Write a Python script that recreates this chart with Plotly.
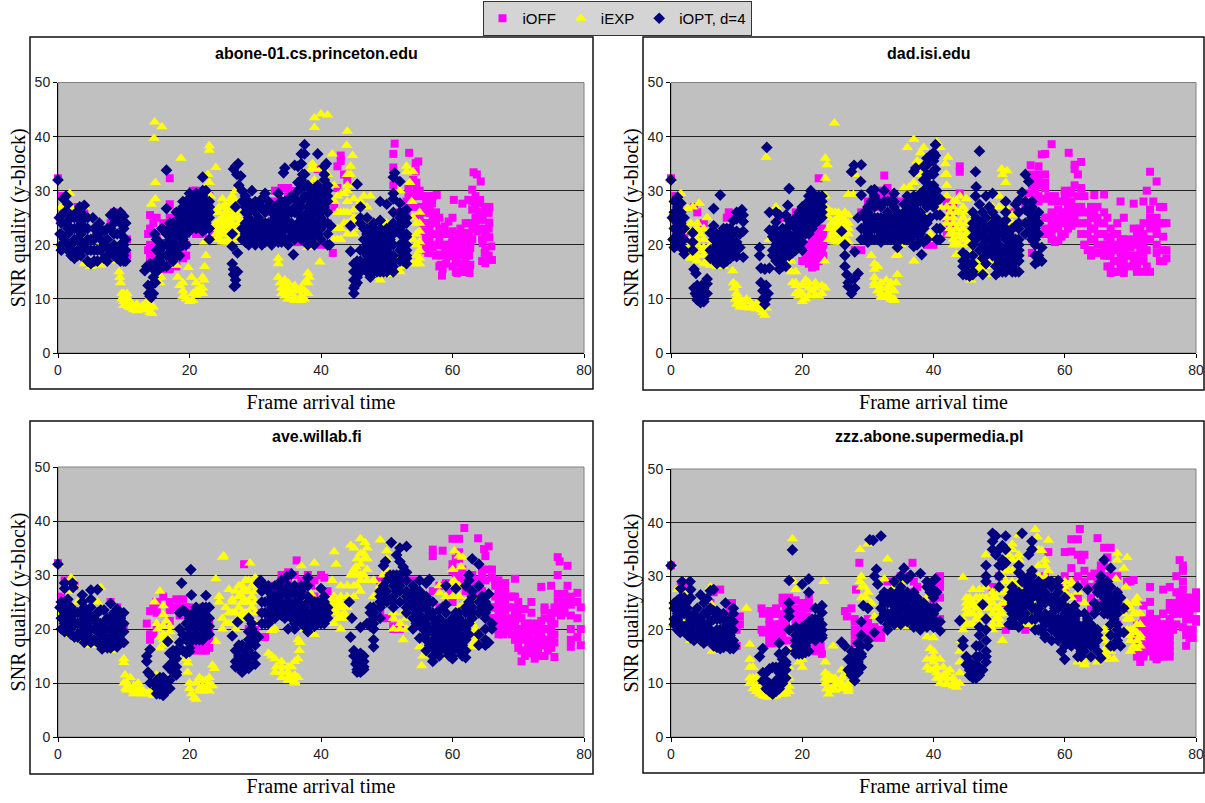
import plotly.graph_objects as go

W, H = 1205, 803
P1_TITLE = "abone-01.cs.princeton.edu"
P2_TITLE = "dad.isi.edu"
P3_TITLE = "ave.willab.fi"
P4_TITLE = "zzz.abone.supermedia.pl"
SERIES = ["iOFF", "iEXP", "iOPT, d=4"]

P1_OFF = [(0,32.3),(0.5,29),(0.3,25),(1,27),(3,27),(4,26),(8.5,26),(9.5,25),(10.5,21),(10.5,18),(8,24),(14,25.5),(13.7,22),(13.7,19),(14,17.7),(14.5,24),(15,22),(15,20),(16,24),(16,16),(17,32.3),(17,27.5),(17,17),(18,24.5),(18.5,25),(19,21),(19.5,18),(19.5,22),(20,24),(20.5,30),(21,22.5),(22,29.5),(23,29),(23,27),(23.5,22),(32,28),(32,26),(33,30),(34,30.5),(35,30.5),(35.5,30),(36,22),(36,20.5),(37,24),(37,20.5),(37.5,26),(39,31),(39.5,34),(40,20),(41,24),(41,20),(41.8,18.5),(42,27),(42.5,34.5),(42.5,30.5),(43,36.5),(43,35.5),(43.5,33),(44,32),(51.2,38.7),(51,36.8),(53.4,37),(54.8,35.4),(54.4,35.1),(54.4,33.6),(51,34.3),(51,31),(53.3,30.5),(54.5,31.5),(54.5,30.2),(53.3,29),(54.7,29),(56.3,29),(57.6,29.2),(55.8,27),(56.9,27.7),(56.6,25.9),(58,25),(56.9,24),(56,21),(56.3,18.5),(57.4,22),(58.2,22),(58.8,23.4),(59.4,24.3),(60,25),(60.2,28.3),(61.5,27.6),(62.4,28.3),(63,30.2),(63.2,33.4),(63.7,33),(64.3,31.7),(64.2,28.3),(63,26.5),(64.2,27.7),(65.6,27),(65.5,25.9),(65.6,24.1),(64.6,24.6),(63.5,24),(63.8,22.5),(62.4,24),(61.2,23),(61.8,22.2),(62.7,20.6),(65.6,21.4),(64.6,20.3),(65.9,19.7),(64.9,18.5),(66,17.2),(65,16.6),(62.7,19.4),(61.6,18.5),(62.7,16.3),(62.6,14.8),(60.7,14.8),(61.6,16),(60.5,17.2),(59.4,17.9),(58.2,16.3),(58.4,14.3),(58,18.2),(58.8,19.7),(59.9,20.3),(61,20.9),(61.3,19.4),(60,19),(57,20),(55.5,24),(53,27),(52,26)]
P1_OFF_COLS = [(53,[26,28]),(54,[27,29,32]),(55,[27,30,25]),(55.5,[29,26,22.5]),(56,[28,26,24,22,20,19]),(56.5,[27,23,21]),(57,[25,29,22,19.5]),(57.5,[26,24,20,18]),(58,[21,23,20,16]),(58.5,[20,18,15.5]),(59,[22,20,18.5,16.5]),(59.5,[20,22,19]),(60,[21,22.5,18,16]),(60.5,[20,18.5,15]),(61,[22,18,16.5]),(61.5,[20,21,15]),(62,[24,21.5,19,17,15]),(62.5,[22,18,15]),(63,[21,23,28]),(63.5,[25,27,29]),(64,[23,25,26]),(64.5,[26,21,17]),(65,[23,22,27,19]),(65.5,[18,23]),(14,[20,23,18.5]),(15,[18,25]),(16,[18,15.5]),(17,[15.5,25]),(18,[16,18,26]),(19,[17.5,19.5]),(19.5,[20]),(22,[22,23]),(21,[30,22]),(35,[26,29]),(33,[28,26.5]),(32,[24])]
P1_EXP = [(0,32),(0.5,27),(1,28.5),(1.8,29.5),(2,27),(0.3,20),(1,19),(2,18),(3,17.5),(4,16.5),(5,16),(6.5,16.2),(3,24),(4,27),(5,25),(5.5,22),(6.5,20),(8,18),(9,17),(9.3,15),(9.4,14),(9.5,13),(9.7,11),(9.7,10),(10,9.5),(10.5,11),(10.3,9),(11,8.5),(11.5,8),(12,8.3),(12.5,8),(13,8.5),(13.2,9),(13.5,8),(14,7.5),(14.3,7.3),(14.5,8.5),(14.7,42.7),(15.8,41.8),(14.6,39.7),(14.8,31.5),(14.8,28.5),(14.2,27.5),(15.5,18),(15.5,16),(15.5,13),(15.7,14),(18.7,36),(18,16.2),(18.2,14),(18.5,12.5),(19,11.5),(19.3,10.5),(19.5,10),(20,9.5),(19.8,15.8),(20.3,14),(20.5,11),(21,11.5),(21.5,12),(22,11),(22.2,13.5),(22.3,16),(22.5,18),(22.3,20.5),(21.7,11),(23,38.3),(23,37.5),(22.8,33),(23,31.5),(24,34.3),(23.2,29),(24,22),(24,24),(24.5,26),(25,28.5),(25,25),(25,22),(25,20.5),(25.5,23),(26,27),(26,24),(26,21),(26.5,25),(26.5,28),(27,30),(27,26),(27,23),(27.5,25),(27.5,22),(27.7,21),(28,21),(24.5,23),(25.5,26),(26.5,22),(33.5,17.5),(33.5,16.5),(33.5,14),(33.8,13),(34,12),(34,11),(34.5,10.5),(34.5,13.5),(35,12),(35,10),(35.5,11),(36,10),(36.5,9.7),(37,10.5),(37,9.7),(37.5,10),(38,11),(38,13),(38,14.8),(38.2,14),(36,11.5),(35.7,10),(33.5,21),(37.5,27),(38,19.5),(39,43.5),(39,41.7),(40,44.2),(41,44),(39.8,16.8),(38.7,35),(39,34),(39,32),(40,31),(41,33),(41.7,36.8),(42,31),(42,28),(39,21),(41,22),(43.5,29.5),(44,31),(44,28),(44,26),(44,41),(43.9,38.4),(44.8,36.5),(44.5,34.5),(44.5,33),(45,31),(45,28.5),(43,29.5),(42.5,26),(42.5,23),(42,21),(43,23),(44,24),(45,22),(46,25),(46.5,29),(47,27),(47.5,29),(48,23),(48,18),(48,14),(49,13.5),(50,24),(50.5,14.5),(51,18),(51,22),(52,15),(52,18),(52,30),(53,34.5),(53,33.5),(54,33.5),(53.5,31.5),(53.8,28),(54,25),(54,21),(54,16.5),(55,26),(55,22.5),(55,19),(55,16.5),(54.5,24),(52.5,25)]
P1_EXP_COLS = [(24.5,[21,22,24.5,27]),(25,[23,24,27]),(25.5,[20.5,22,24,25,27.5]),(26,[20.5,22,23,25,26,28]),(26.5,[21,23,24,26.5,29]),(27,[21,22,25,28]),(27.5,[23,24,26]),(24,[21,23,26]),(10,[10.5,11,8.8]),(10.7,[9,8.5,10]),(11.3,[9,8.3]),(12,[9,7.8]),(12.8,[8.7]),(13.5,[9.5]),(14,[8.5]),(20.5,[9.7]),(19,[13,10.5]),(21,[10.7,13]),(22,[12,14]),(34.5,[12,11]),(35,[11,13]),(36,[9.7,12.5]),(37,[11.5,12]),(37.5,[11.5,13]),(44,[22,30,33]),(43.5,[24,26]),(42.5,[29,21]),(43,[26,21]),(45,[25,26.5,24]),(46,[28,23]),(47,[24]),(50,[14.5]),(51,[15,16]),(52,[16,20]),(54.5,[18,20,22,16.5]),(55,[20.5,24,17.5]),(38.5,[34,31]),(40,[28,34])]
P1_OPT = [(0,32),(0.8,28.5),(1.2,29),(1.5,27.5),(0.2,25),(0.6,25.5),(1,26),(1.2,24),(0.3,22),(0.5,20),(1,21),(1.5,22),(1.5,19),(2,20),(2.5,18.5),(2.5,21),(3,23),(3,25),(2.8,26),(3.3,27),(4,27.3),(4,25),(4,23),(4,20),(3.5,19),(3.5,18),(4.5,17),(5,16.5),(5,19),(5,21),(5.3,25),(6,17),(6,19),(6,22),(6.3,24),(7,17.5),(7,20),(7,22.5),(7.5,21),(8,18.5),(8,23),(8,25.5),(8.5,26),(8.5,20),(9,25),(9,22),(9,19),(9.5,24),(9.5,18),(10,25.3),(10,23),(10,20),(10,18),(10,17),(9,17.5),(13.2,15.2),(13.5,16),(13.7,12.5),(13.8,11),(14,10.5),(14.2,10.3),(14.5,11),(14.2,12.5),(14,16.5),(14.5,14),(14.7,22),(14.5,15.5),(14.8,13),(15,17),(15.5,17),(15.5,19),(15.5,16),(16,16),(16,20),(16.5,18),(16,22.8),(16.5,26.7),(16.5,33.8),(17,18),(17,21),(17,23),(17.5,19),(17.5,21.5),(18,18),(18,20),(18,22),(18,23.5),(18.5,19.5),(18.5,21.5),(18,26),(19,25),(19,27),(19,22.5),(19.5,24),(19.5,28),(20,25),(20,27),(20,29.5),(20.5,26),(20.5,28),(21,24),(21,26),(21,28),(21.5,25),(21.5,27.5),(22,30),(22,26),(22,28),(22,32.5),(22.5,23),(22.5,25),(22.5,27),(23,26),(23,28),(23,21),(22,22.5),(20,22.5),(26.5,22),(26.5,19.7),(26.5,16.5),(26.7,15.5),(26.7,14.5),(27,13.5),(26.8,12.3),(27,12.5),(27.3,15),(27.3,18.5),(26.7,34),(27,34.5),(27.4,35),(27.2,33),(27.8,32.7),(27.5,31),(27,27),(28,28),(28,30),(28.5,29),(29,28),(29.5,30),(29,25),(28,23),(28,21),(29,22),(29,20),(30,21),(30,24),(30.5,27),(31,28.5),(31.5,29.5),(31,22),(31,20),(32,21),(32,24),(32.5,20),(33,22),(33,25),(33.5,27.5),(33.5,29.5),(34,24),(34,22),(34.5,34.2),(34.3,33.3),(34.5,28),(34.5,25),(35,23),(35,20),(35,21),(35.5,24),(36,22),(35.8,18.2),(36,26),(36,28.5),(36.5,34.5),(36,34.7),(36.5,31.5),(37,30.5),(37,28),(37,36.8),(37,35),(37.2,33),(37.5,36.8),(37.5,38.5),(38,31),(38,29),(37.5,25),(38,23),(38,21),(39,24),(39,22),(39,27),(39.5,29),(39.5,36.8),(40,30),(40,27),(40,25),(40,23),(40.5,34.5),(40.8,35),(40.5,33),(41,31),(41,28),(41,26),(41,20),(41.5,23.5),(41,22),(41.3,20),(44.5,23.5),(44.5,18.8),(45,16.5),(45,15),(45,13.5),(45,12),(45,11),(45.2,12.5),(45.5,14),(46,17),(45.5,31.2),(46,27),(47,25),(47,20),(47,18),(47,15),(47.5,14),(48,24),(48,22),(48,20),(48,18),(49,28),(49,24.5),(49,22),(49,19),(49,16),(49,15),(50,27.5),(50,20),(50,18),(50,23),(50.5,21),(51,28.5),(51,26),(51,24),(51,20),(51,16),(51,15),(51,29.5),(51.2,33.3),(51,32.5),(51.5,22.5),(52,27.7),(52,31.7),(52,24),(52,22),(52.5,17),(53,26.5),(53,24),(53,21.5),(53,19),(53,17.5),(52.5,20.5)]
P1_OPT_COLS = [(0.5,[24,22,19]),(1.5,[26,20,23]),(2,[23,25,18]),(2.5,[23,25,17.5]),(3,[19,21,18]),(3.5,[22,24,26,20.5]),(4.5,[19,21,23,25]),(5.5,[17,19,21,23]),(6.5,[19,21,23]),(7.5,[18,19.5,23,17]),(8.5,[18,22,24]),(9.5,[20,22,26,17]),(10.3,[19,21,24,17]),(15,[15,19,21]),(15.8,[18,20,23]),(16.5,[16,20,22]),(17,[19.5,22,24]),(17.5,[17,20,23,24]),(18.5,[18,23,25,26]),(19,[20,21,24,28]),(19.5,[20,22,26,27]),(20,[23.5,26,28.5]),(20.5,[24,25,27,29]),(21,[23,25,27,29.5]),(21.5,[24,26,29]),(22,[24,27,29]),(22.5,[24,26,28,30]),(23,[23,25,27]),(28.5,[20.5,22,24,26,27]),(29,[24,23.5,26]),(29.5,[21,22,24,27]),(30,[20,22,23,26,28]),(30.5,[21,23,25]),(31,[23,24,27]),(31.5,[20.5,22,24,26]),(32,[22.5,27,28]),(32.5,[22,24,26]),(33,[21,23,24,27]),(33.5,[20.5,22,24.5,26]),(34,[20.5,23,26,28]),(34.5,[21,23,27]),(35,[24,26,28]),(35.5,[21.5,23,26,29]),(36,[21,23,27]),(36.5,[22,24,26,28,30]),(37,[21,23,25,27,32]),(37.5,[22,24,29,31,33]),(38,[20,22,24,26,27]),(38.5,[21,23,25,28,30]),(39,[20,23,26,28,30]),(39.5,[22,24,26,31]),(40,[21,26,28,29]),(40.5,[24,27,30,32]),(41,[24,29,30]),(45.5,[15.5,13,17]),(46,[15,19,25,24]),(46.5,[16,19,21,23]),(47,[16,17,19,22,23]),(47.5,[16,18,20,21,23]),(48,[15,16,17,19,21,23]),(48.5,[15,17,18,20,22]),(49,[17,18,20,21,23]),(49.5,[15,17,19,21]),(50,[15,16,17,19,21,22]),(50.5,[16,18,20,23]),(51,[17,18,22]),(52,[17,19,20,23,25,26]),(52.5,[18,22,24,26]),(53,[16.5,18,20,22,25])]

P2_OFF = [(58,38.6),(56.5,36.7),(57,36.8),(60.6,37),(54.8,34.7),(56,34.5),(61.5,34.8),(62.5,35.3),(61.5,34),(62,33),(57,33),(56,32),(56,31),(57,30.5),(54.5,29.5),(55.5,28.5),(57,28.5),(58,28),(60,30),(61,29.5),(62.5,30.5),(63,29),(60,28),(61,27),(62,27),(59,26.5),(58,25.5),(59,24),(60,24),(61,25),(60.5,23),(59,23),(58,22),(59,20.8),(60,22),(63,22),(64,25),(63.5,26),(65,27),(64.5,29.2),(66,29.3),(66,26),(66.5,25),(64,23),(65,24),(65.5,22),(64,21),(63,20),(64,19),(65,20),(66,19),(67,21),(67,23),(68,22),(66.5,18),(68,19),(69,21),(67,16),(67.5,15),(69,17),(70,18),(69,14.8),(71,20),(72,20),(72,17),(73,21),(71,15),(72,15),(72.5,16),(73,15),(71.5,23),(70.5,23),(72,24),(73,25),(69,25),(68,24),(68.5,28),(70.5,27.6),(72,28),(72.5,30),(73,33.5),(74,31.7),(73.5,28),(73,26.5),(74,23),(75,24),(75,27),(75.5,24),(75,21.5),(75,19),(74,20),(74,18.5),(75.5,19),(75.5,17.5),(74.5,17),(75,17),(0,32.3),(22.5,32.3),(32.5,32.8),(44,34.5),(44,33.5),(44,29.5),(42,28),(21,20),(21,18),(21,16.5),(22,16),(22,18),(22,20),(23,19),(23,21),(23,23),(22,22),(21.5,15.8),(20,17),(20,24),(19,26),(17,25),(18,24),(8.5,25),(8.8,26),(3.5,27),(4,26),(5,24),(2,22),(1,29),(0.5,29),(0.3,25),(31,30),(33,30.5),(34,29),(35,28),(33,26),(31,27),(32,24),(30,28),(36,28),(37,27),(29,26),(40,20),(39,20),(38,21),(42,25),(42,22),(52,26),(53,28),(54,27.5),(55.8,22),(55,21),(55,18.5),(54,24),(35,22.5),(29,19),(28,19)]
P2_OFF_COLS = [(55,[31,33,27]),(55.5,[30,32,26]),(56,[28,29,33]),(57,[31.5,25,23,22]),(57.5,[25,22,29]),(58,[26,24,23,21]),(58.5,[20.5,29]),(59,[25,28]),(59.5,[22,26,21.5]),(60,[26,29,25]),(60.5,[25,27,28]),(61,[23.5,26,28,30]),(61.5,[25,27,31]),(62,[29,26,24]),(62.5,[27,22]),(63,[24,26,20]),(63.5,[22,24,19]),(64,[27,25,18]),(64.5,[23,21,26]),(65,[22,18.5,25]),(66,[22,24,20,18]),(66.5,[20,21.5,16]),(67,[18,20,19,14.8]),(67.5,[17,20,22]),(68,[20,17,15]),(68.5,[18,21,16]),(69,[19,15.5,20]),(69.5,[18,21,20]),(70,[16,20,19.5]),(70.5,[18,21,17]),(71,[18,22,16]),(71.5,[19,17,21]),(72,[22,18.5]),(72.5,[21,19]),(73,[24,23]),(74,[25,24,22]),(74.5,[24,27]),(20.5,[18,20,22]),(21.5,[17,19,21,23]),(22.5,[17,19,21,23]),(23.2,[20,22,18]),(21,[22,24]),(42.5,[24,26]),(43,[27,26]),(32,[29,30]),(31,[29]),(34,[27]),(33,[29])]
P2_EXP = [(0,32),(1,29),(1.5,29.5),(2.5,26.7),(3.3,27),(4.3,27.7),(3,24),(3.5,22.5),(3,21),(4,23),(4.5,22),(5,21),(5.5,25),(4,20),(3.5,18),(5,18),(5,16.5),(6,16.2),(7,16),(8,16),(4.5,19),(2,19),(2.5,18),(9.4,15.2),(9.5,13),(9.6,12),(10,11),(9.8,10),(10,9),(10.5,9),(11,8.5),(11.3,8.5),(11.5,10),(12,8.3),(12.5,8.5),(13,8.2),(13.3,9),(13.7,8),(14,7.5),(14.3,7),(14.5,8.3),(14.3,12.5),(14.5,36.2),(16,27),(16,17),(17,21),(15,21),(17.5,15.8),(18.3,17),(18.3,15),(18.5,13),(19,12.5),(19.5,10.5),(20,9.5),(19.5,11.5),(20.5,10),(20.5,13.5),(21,12),(21.5,11.5),(22,12),(22.5,10.5),(23,11),(23.5,12),(23.4,17),(23.5,29),(23.5,27),(24,25),(24,23),(23.5,32.3),(23.5,36),(23.8,34.8),(24.9,42.5),(25,26),(25,23),(25,21),(26,25),(26,22),(26,20.5),(26.5,26),(27,24),(27,22),(27,20.5),(25.5,24),(24.5,24),(26.5,23),(27,29.3),(27.8,29.3),(28,33),(30.5,18),(31,16.5),(31.5,16),(31,14),(31,12.5),(31.5,11.5),(32,11),(32,13),(32.5,10.3),(33,10.5),(33,12),(32.8,13.5),(33.5,10),(34,10),(34,11.5),(34.3,13),(34.5,14.5),(34.3,18),(34.5,18.2),(33.7,10),(35,20),(35.5,21),(35.5,30.5),(36.3,30.7),(36,38),(37,39.5),(37,31.5),(37.5,35.5),(38,37),(38.5,38),(38.5,33),(38,30),(37,27),(37,17),(39,28),(39.5,25),(39.5,22),(40,21),(40.5,39),(41,38),(41.8,35),(41.8,33),(42.2,36.2),(42,31),(42,29),(42,27),(41,27),(43,27),(43,24),(43,22),(43.5,28),(44,29),(44,26),(44,24),(44,22),(44,20),(44.5,23),(45,28.5),(45,24),(45,21),(43.5,20),(43.5,18.2),(46,21),(45.7,13.5),(46,19),(47,17),(47.5,15),(48,14.5),(48,16),(49,17),(48.5,22),(49,25),(49,27),(50,29),(50,27),(50.4,34),(50.5,33),(51.2,33.7),(51,31.5),(51,27),(51,23),(52,25.5),(52,24)]
P2_EXP_COLS = [(24,[21,26.5]),(24.5,[21,22,26,23]),(25,[24.5,22,20.5]),(25.5,[20.5,22,25,26]),(26,[23.5,21]),(26.5,[21,24.5]),(27,[23,25.5]),(10,[10,12.5]),(10.5,[10,8.5]),(11,[9.5]),(12,[9.5]),(13,[9]),(13.7,[9]),(19,[11,13,15]),(20,[11,12.5]),(21,[10.5,13]),(22,[10.7,13]),(23,[12.5]),(31,[15.5,13]),(32,[10.3,12]),(33,[11]),(34,[9.7]),(33.5,[12,13]),(42,[33,25,24]),(42.5,[23,26,22]),(43,[28,25,20,21]),(43.5,[26,23,21.5]),(44.5,[25,27,21]),(45,[22,26,20]),(46,[23,25]),(47,[15,16,18]),(48,[17.5,14.5]),(4,[18,21,24,17]),(3,[17.5,22.5,20]),(5,[19.5,23]),(5.5,[17,19]),(6,[17,20]),(38,[33,35]),(39,[35,32,25])]
P2_OPT = [(0,32),(0.5,28),(1,28.8),(1.5,27.7),(0.2,25),(0.5,23),(1,25.5),(1,22),(0.3,21),(1,20),(1.5,24),(1.5,21),(2,19),(3.3,22.2),(3.3,19),(2,18.3),(3.5,15.5),(3.8,14.7),(3.5,12),(3.7,11),(4,12.5),(4,10.5),(4.5,9.3),(4.5,11),(5,10),(5,12),(5.5,13.7),(5.5,11),(5.5,12.8),(6,22.2),(6.5,26.7),(6.5,23.5),(7,21.5),(7.5,29.2),(6,19),(6,17.5),(7,17),(7,19),(7,21),(8,17),(8,19),(8,23),(8.5,22),(8,21),(9,17.5),(9,20),(9.5,22),(9.5,24.5),(10,26),(10,24.8),(10,19),(10,17.8),(10.5,22),(10.8,26.5),(11,25.5),(11,24.3),(11,22.5),(10.5,19.5),(11,17.7),(13.5,19.5),(13.5,18),(13.7,15.7),(13.7,13),(14,11.5),(14,10),(14.3,9),(14.5,10),(14.8,11),(14.5,12.5),(14.3,15.5),(15,15.7),(14.6,38),(15,26),(15,22.7),(15.5,21.5),(15.5,19),(15.5,18),(16,24.2),(16,26),(16,20),(16.5,17),(17,16),(17,19),(17,22),(17.5,25.5),(17.8,27.3),(18,30.4),(18,23.5),(18,21),(18,18),(19,20),(19,23),(19,25),(20,19),(20,22),(20,24),(20,26.5),(20.5,24.5),(21,22),(21,25),(21,27),(21.3,30),(21.5,23),(22,25),(22,27),(22,28.5),(22.5,26),(22.5,24.5),(23,27),(23,29),(23,26),(21.5,28),(26,22.5),(26.5,20),(26.5,18),(26.5,16),(26.8,14.5),(27,13),(27,12.3),(27.5,11),(28,12),(28,13.8),(28.5,14.7),(28,18.7),(27.5,33.5),(27.9,34.7),(29,34.8),(28.9,31.7),(29,29.2),(28.5,25),(29,23),(29,21),(30,26),(30,23),(30,21),(30.5,30),(31,30.2),(31,27),(31,24),(31,21),(32,25),(32,22),(32,20.5),(32.5,30),(33,28),(33,24),(33,22),(34,29.5),(34,27),(34,23),(34,21),(34.5,19.5),(35,24),(35,22),(35.5,27.5),(36,25),(36,23),(36,21),(36,29),(36.5,28),(37,33.5),(37.3,34.2),(37,25),(37,22),(37,19.7),(38,28),(38,25),(38,23),(38,21),(38.2,18.2),(38.5,34.5),(39,34.7),(39,31.5),(39,29),(39.5,36.5),(39.5,28),(40,35.5),(40,33),(40.3,34),(40,31),(40.3,36.5),(40.3,38.5),(40,29),(40.5,25.5),(41,25.5),(41,23),(41,21),(41,28.5),(46,26),(46,24),(46.4,29),(46.5,30.7),(46.4,33.5),(47,37.3),(47,27.5),(47,24),(47,22),(46,20),(44.5,18.5),(44.5,16),(45,14.5),(45,18),(45.5,14.2),(46,15),(46,18),(47,19),(47.5,17.5),(48,16.5),(48,29),(49,29.5),(49,26),(49,23),(49.5,21),(49.5,16),(49.5,14.5),(50,20),(50,18),(50.5,24),(51,24.5),(51,28),(51,21),(51,17),(52,15),(51,15),(52,18),(52,21),(52.5,27.5),(53,28.2),(53,24),(53,23),(53,20),(53,17),(53,15),(53.5,29.7),(54,33),(54.5,31.7),(54,26.5),(54.8,26.7),(55,28),(55,24),(55,22),(55.5,25),(56,26),(56,24),(56,22),(55.5,20),(56.5,19.5),(56,18),(56,17),(55.5,16.5),(56.5,17)]
P2_OPT_COLS = [(0.5,[26,21,19.5]),(1,[27,24,20.5,23]),(1.5,[26,23,19.5,22.5]),(2,[21,23,25]),(3.3,[20.5]),(4,[11.5,9.8]),(4.7,[12.5,10]),(5,[9.5,11]),(6.5,[17.5,19,21]),(7,[18,20,22,16.5]),(7.5,[17,18.5,20,22]),(8,[18,20,16.5]),(8.5,[17,19,21,23]),(9,[18,19,21,23]),(9.5,[19,20,18]),(10,[20.5,18,22.5]),(15.8,[18,21,23]),(16,[21.5,22,17]),(16.5,[15.5,19,21,25.5]),(17,[17.5,20,21,23]),(17.5,[18,20,22,16]),(18,[19,20,22,24.5]),(18.5,[19,21,24,18.5]),(19,[21,22,19]),(19.5,[19.5,22,24,26]),(20,[20.5,23,25,27]),(20.5,[22,23.5,26,27.5]),(21,[24,26,28,29]),(21.5,[24,26,27,29]),(22,[24,26,29]),(22.5,[25,27,29]),(23,[25,28]),(29.5,[21,23,25,26]),(30,[20.5,22,24,27]),(30.5,[21,23,25,28]),(31,[23,25,29]),(31.5,[21,23,25,28]),(32,[23,24,27]),(32.5,[21,23,25,28]),(33,[21,23,26]),(33.5,[21,24,25,28]),(34,[22,25,28]),(34.5,[22,24,26]),(35,[21,23,25]),(35.5,[21,24,26]),(36,[22,24,27]),(36.5,[21,23,25,26]),(37,[23,24,27,29]),(37.5,[20,22,24,26,28]),(38,[22,24,26,29.5]),(38.5,[20.5,23,25,28,30,32]),(39,[21,24,27,33,36]),(39.5,[25,30,33]),(40,[27,36,37]),(40.5,[28,30,23,21]),(44.5,[14.5,17]),(45,[15,16,17]),(46,[14.5,16.5,23,21.5]),(46.5,[25,23,21]),(47.5,[14.5,22,24,26,20]),(48,[19,21,23,25,18]),(48.5,[19,21,23,27]),(49,[18,20,22,24]),(49.5,[18,19,23,25]),(50,[15,16,17,22,24]),(50.5,[19,22,17,15]),(51,[19,23,26]),(51.5,[16,18,20,22]),(52,[16,19,20,23]),(52.5,[15,17,19,21,23.5]),(53,[18,19,21,26]),(54,[28,24,22]),(54.5,[24,26,22.5]),(55,[21,25,27]),(55.5,[23,21,18])]

P3_OFF = [(61.8,38.7),(60,36.7),(61,36.7),(63.9,36.8),(65.5,35.3),(64.8,34.8),(65,33.5),(57,34.7),(57,33.5),(58.5,34.5),(61,34.2),(61,33),(60,32),(60,30.8),(61.5,31),(62,29),(59,28.5),(58,28),(59.5,27),(57,27),(65.5,31),(65,29),(66,29.5),(66,31),(64,29),(63,30),(67,29),(68,28.5),(69.5,29.3),(67,27),(68,27),(69,26),(70,25),(66.5,26),(66,24),(67,24),(68,23.5),(70,24),(71,23.7),(72,25),(69,22),(67,21),(66.5,20.5),(67.7,19),(68,21),(70,20),(70,22),(71,21),(71,18),(72,18),(73,19),(72,21),(73.5,21.5),(72.5,20),(74,20),(75,21),(75,19),(70.5,16),(70.5,14),(71.5,16),(72.5,14.5),(73,16),(74,17),(74,15),(75,16.5),(75.5,14.8),(74,23.5),(75,23),(76,24),(77,23.7),(76.5,22.5),(73.5,27.8),(75,28),(76,26.5),(77,26.5),(76,30),(77.5,28),(76,33.3),(76.3,32.5),(77.5,31.7),(79,26.7),(79,25),(78,24.5),(79.5,24),(79,22),(78,22.5),(78,20),(79.5,20),(79,18.5),(78,18),(79.5,17),(78,16.7),(0,32.2),(28.3,32),(36.3,32.7),(15,25),(16,26),(17,25),(18,25.5),(19,25.5),(14,23.3),(13.5,21),(14,19),(15,23),(18,24),(20,24),(21,23),(21,19),(21,17),(22,16),(21,16),(23,16.5),(23,20),(22.5,18),(20.5,17),(14,18),(8,25),(9,24),(9.5,18),(10,20),(1,29),(2.5,28),(0.5,26),(30,20),(29,20),(31.5,18.5),(32,22),(31,23),(33,28),(34,30),(35,30.5),(36,30),(37,29),(37,27),(38,30),(40,30),(40.5,29.5),(39,29),(41,27),(39,26),(38,22.5),(36,26),(34,26),(49,29),(50,30),(50,22),(49,23),(53,29),(52,20),(51,20),(51,20.5),(54,29),(55,24),(58,24),(60,25),(62,27),(64,27),(65,23),(66,22)]
P3_OFF_COLS = [(66.5,[22,24,28,20,29]),(67,[23,25,28,19]),(67.5,[26,22,20]),(68,[25,22,19.5]),(68.5,[24,21,20,26]),(69,[24,19,20.5]),(69.5,[21,23,26,18]),(70,[19,18,16.5,23]),(70.5,[19,20,22]),(71,[20,16,15]),(71.5,[21,19,18,17]),(72,[19.5,17,15.5,23]),(72.5,[18,17,16]),(73,[21,18,20.5]),(73.5,[19,17,15]),(74,[22,18,24]),(74.5,[20,18,16]),(75,[20,18,22]),(75.5,[21,19,17.5,24]),(76,[25,23]),(76.5,[25,24]),(77,[23,25]),(78,[26,25]),(64.5,[30,31,27]),(63.5,[29,28]),(62.5,[30,28]),(61,[30,29]),(60.5,[33,30]),(15,[23.5,20.5,25]),(14.5,[24,19]),(17,[23.5,21.5]),(18.5,[24,22.5]),(19.5,[24]),(21.5,[18,17,22,20]),(22,[19,21,24,17]),(23,[18,21.5]),(22.5,[16,17]),(35,[28,29]),(34,[28,29]),(33,[26,27]),(38.5,[28])]
P3_EXP = [(0,32),(0.5,23),(2,29.5),(1.5,27),(2.5,28),(3,25),(5.5,23),(6.5,27.7),(6,25),(6,19),(6,17),(5,17),(7,16.2),(8,16),(3,18),(1.5,20),(0.5,20),(2,19),(10,14.5),(10,13.8),(10.2,11.5),(10,10),(10.3,9),(11,11),(11,9),(11.5,8.5),(12,8.5),(12.2,10),(13,8.5),(13.5,8),(14,8),(14.5,7.7),(15,8),(15,11.5),(15.5,27),(14.7,25),(16,24.3),(16,22.7),(16.5,21.5),(16,20.5),(15.2,20),(15.5,18.5),(15.5,16.5),(16.5,18.5),(17,19.5),(16,17),(19.5,21),(19.5,14.5),(19.7,13.7),(19.7,12),(20,10),(20,9),(20.3,8),(20.7,7.3),(21,7),(21,10),(21.5,11),(22,9.5),(22.5,10.5),(23,9.5),(23,11),(23,8.5),(23.5,9.5),(23.5,13.3),(23.8,12.7),(24,17.7),(24,29.3),(24.5,25),(24.5,26),(25,33.3),(25.2,33.5),(25,22),(25,20),(26,21),(26,23),(26,27.3),(26.5,25),(27,27),(27,23),(27,20),(27.5,26),(28,28),(28,25),(28,22),(28.5,27),(29,29),(29.2,32.2),(29,25),(29.5,26),(30,29.5),(30,23),(30,21),(32,15.5),(32.5,15),(33,14.5),(33.2,13),(33,12),(34,14),(34,12),(34,11),(35,13),(35,11),(35.5,13),(35.5,11),(36,10.3),(36.5,11),(36,14),(36.5,14.5),(36.7,16),(36.5,18),(36.8,17.5),(32.5,19.7),(33,20),(37,31.7),(39,32.2),(38.5,26.5),(39,19),(37.5,25),(37.5,20),(41,21),(42,34.3),(42.3,32),(41.7,29),(41.5,25),(42,23),(42,21),(43,26),(43,24),(43,20),(44,28),(44,25),(44,22),(44.5,30),(44.5,35.5),(45,35),(45.3,31.5),(45,28),(46,36.7),(46,30),(46,27),(46.7,36),(47,33),(47,31),(47,29),(48,29),(48,26),(49,36.5),(49,28),(49.5,30),(50,29),(50,31),(50,33),(50,34.5),(50.7,36),(50.5,27.5),(51,20),(52,21),(52,25),(52,20),(52.5,18),(54,28),(55,16.7),(55.5,15),(55.3,13.2),(56,17),(57,19),(57,22),(58,28),(58,26.7),(58.5,24),(59,26),(58.5,15),(59,15),(60,16),(60.3,34.5),(60.2,29),(60,26),(61,33.5),(61.5,33.3),(61.3,31.5),(61,28),(62,25),(62.5,23),(63,25),(63,21),(63,19),(63,17),(62,16.5),(64,17),(64,25.5)]
P3_EXP_COLS = [(10.5,[10,8.7]),(11.5,[9.5,8]),(12.5,[9,8]),(13,[8]),(14,[8.5]),(21.5,[8.5,9]),(22,[8.5,10.5]),(22.5,[9]),(23,[10]),(25.5,[24,21]),(26.5,[23,21,25.5]),(27.5,[24,22,28]),(28,[23,26,27]),(28.5,[23,25,29]),(29,[27,23]),(29.5,[24,28]),(30,[25,27]),(34,[13]),(35,[12,10.5]),(36,[11.5,10]),(42,[25,26,24]),(42.5,[23,25,24,22]),(43,[22,25,28]),(43.5,[22,24,23]),(44,[24,26]),(45,[31,26,30]),(45.5,[28,33,30]),(46,[32,34,29]),(46.5,[30,34,33]),(47,[35]),(51,[22,23]),(52.5,[23,25]),(53,[20,22]),(60,[28,31]),(61,[26,24]),(63.5,[16.7,18,20]),(17,[18,20.5]),(16,[19,18]),(15,[21])]
P3_OPT = [(0,32),(1,28.5),(2.2,28.5),(2.3,27.7),(1,27.5),(0.3,24),(0.5,22),(1,25),(1.5,25.5),(1.7,24),(1,21),(1,19.5),(2,22),(2,20),(2.5,18.5),(3,21),(3.5,19),(3.7,26.3),(3.7,25),(4,22),(4,18.5),(5,25.5),(5,27.2),(5,22),(5,18),(6,27.3),(6,21),(6,19.5),(6.5,17),(7,23.5),(7,21),(7,18.5),(6.7,16.3),(8,20),(8,17),(8,22),(8,24.7),(9,23.7),(9,21),(9,18.5),(9,16.7),(10,23),(10,21),(10,19.5),(10,17.5),(13.5,15),(14,16.2),(13.5,14),(13.7,12),(14,11.5),(14,10),(15,9),(15,10.5),(15.5,8),(16,8.5),(16,10.5),(16.5,8.5),(17,9),(17,10.5),(16.7,13),(16.7,17.7),(17,15.5),(17.5,14),(18,13),(18,11.5),(18,14.5),(18,16),(18.5,17.5),(18.5,20),(18.5,23),(18.8,28.5),(19,23.5),(19,19),(19,16),(20,16.5),(20,19),(20,21),(20.2,31),(20.3,26.3),(21,23),(21,20),(21,18),(22,20),(22,22),(22.5,26.2),(22.5,24),(22.5,22.5),(23,19),(23,20.5),(26.5,18.7),(27,16),(27,14),(27,13),(27.3,21.3),(28,12),(28,14),(28,16.5),(29,12.7),(29,15),(29,17),(29,22),(29.5,20),(30,19),(30,17),(30,15),(30,13.5),(30.5,18.5),(30.5,28.5),(30.8,29),(31,27),(31,25),(32,27),(32,23),(32,21),(33,26),(33,24),(33.5,28),(34,25),(34,22.5),(34.8,29.7),(35,28),(35,25),(35,23),(35.5,30.2),(36,26.7),(36,24),(36,20),(37,28),(37,24),(37,22),(38,29.5),(38,28),(38,25),(38,21),(38,19.5),(39,24),(39,22),(39,20.5),(40,27.5),(40,24),(40,22),(40.5,25),(41,23),(44.3,25),(44.7,22),(44.5,18.5),(45,16),(45,15),(45.3,13.5),(45.5,12),(46,14),(46,12.5),(46.5,15),(46.5,13),(46,20.3),(47,21),(47.5,23),(47.5,20.5),(48,24),(48,22),(48,20),(48,18),(48,16.7),(49,25),(49,27),(49.5,31.7),(49.8,32.5),(50,29),(50.7,36),(50.5,30),(51,26),(51,24),(51.5,33.7),(52,32.5),(52,35),(53,35.3),(52.5,31.5),(53,30.5),(52,29),(52,27),(53,27),(53,25),(53,23),(54,26),(54,24),(54,22),(54,20),(55,29),(55,25),(55,22.5),(55,18.3),(55.5,20),(56,28.5),(56.5,29.2),(56,24),(56,21),(56,16),(57,25),(57,22),(57,18),(57,15),(57,14),(58,23.5),(58,20),(58,17.5),(59,24.5),(59,28),(59,21),(59,18),(59,16),(60,15),(60,14.5),(60,18),(60,20),(60,22),(60.5,27.5),(61,23),(61,20),(61,17),(61.5,15),(62,19),(62,21),(62,16),(62,14.7),(62,24),(62,28),(62.5,30),(62.5,29),(63,33),(63,26),(63,23),(64,32),(64,28),(64,25),(64,23),(64,19),(64,17),(65,25),(65,22),(65,18),(65,17),(65.5,26.5),(65.5,24),(66,21),(66,20),(65.5,17.5)]
P3_OPT_COLS = [(0.5,[24,20,25]),(1,[23,24]),(1.5,[21,20,22.5]),(2,[24,19]),(2.5,[21,23]),(3,[19,23,18.5]),(3.5,[21,23]),(4,[20,24,17.5]),(4.5,[19,21,23]),(5,[20,17.5,24]),(5.5,[18,20,22]),(6,[23,17.5]),(6.5,[19,21,23.5]),(7,[17,20,16.7]),(7.5,[18,20,22,16.5]),(8,[18.5,16.5]),(8.5,[19,21,17,23]),(9,[20,17.5,22]),(9.5,[18,20,22]),(15,[8,9.5]),(15.5,[9.5,11]),(16,[7.7,11]),(16.5,[10]),(17.5,[12,15,16]),(18,[12,15.5]),(19.5,[18,21,23,15.5]),(20,[15.8,18,20,22]),(20.5,[18,21,23]),(21,[19,22,24]),(21.5,[18,21,23]),(22,[18,19,24]),(22.5,[19,21]),(23,[22,24]),(27.5,[13,15,17]),(28,[13,17]),(28.5,[13,15,16]),(29,[13.5,16,18,19.5]),(29.5,[15,18,21]),(31,[21,23,28]),(31.5,[21,23,25,28]),(32,[25,28]),(32.5,[22,24,26]),(33,[22,25,28]),(33.5,[23,25,26]),(34,[24,27,29]),(34.5,[22,24,27]),(35,[20,24,26]),(35.5,[22,24,27]),(36,[21,23,25,28]),(36.5,[22,25]),(37,[21,23,26,27]),(37.5,[20.5,22,24,28]),(38,[23,26]),(38.5,[21,23,25]),(39,[23,25]),(39.5,[21,23,25]),(40,[21,25]),(40.5,[21,23,26]),(41,[22,24]),(45.5,[15,14,12.5]),(46,[13,12,15.5]),(46.5,[14,12.5]),(47.5,[21,24]),(48,[21,23]),(49,[22,24,26]),(49.5,[27,25,28]),(50,[25,27,26]),(51,[28,30,29,25]),(51.5,[27,30]),(52,[25,28,30]),(53,[26,29,24]),(54,[25,27,28]),(54.5,[21,23,25,27]),(55,[21,27,24]),(55.5,[22,24,26]),(56,[18,19,22,26]),(56.5,[17,20,23,25]),(57,[17,20,23]),(57.5,[16,19,21]),(58,[15,16,19,22]),(58.5,[17,19,21,24]),(59,[17,20,23]),(59.5,[15,17,19,21]),(60,[16,17,19,21]),(60.5,[17,19,21,23]),(61,[16,18,19,22]),(61.5,[17,18,21]),(62,[18,20,23]),(62.5,[19,21,23,25]),(63,[22,24,27]),(64.5,[24,26]),(65,[20,23])]

P4_OFF = [(62.3,38.8),(61,36.9),(62,36.9),(65,37.1),(66,35.3),(67,35.3),(60,34.5),(61,34.6),(62,34),(62.5,33),(61,31.5),(62,30),(60,30),(61.5,29),(64.5,30.5),(65,29),(66.5,33.5),(63.5,28),(60,28),(69.5,29),(70,29),(70.5,29.3),(73,28),(75,27.5),(76,28),(77,27),(77,30),(77.5,33),(78,32),(78,31),(78,27.5),(76,25),(76,23.7),(75,23),(73,23),(72,24.5),(73,25.2),(74,21),(75,21),(76,21),(77,21),(72,21),(71,21),(73,19.5),(74,19),(75,19),(76,20),(72,19),(71,19),(72,18),(73,17.5),(74,17),(75,17),(76,17),(71,17),(72,16),(71,15),(71.5,14),(74,15),(75,15),(76,15),(78.5,17),(79,18.5),(79.5,18.5),(79,20),(78,20.5),(79,22),(80,21.5),(78,23),(79,24),(80,24),(79,25),(80,26),(80,27),(78.5,26),(0,32),(7.5,27.5),(6.5,27),(6,25),(5.5,24),(2.5,28.5),(1.5,28.5),(8,23),(9,24),(9.3,25),(9.5,21),(10.5,22.5),(10.5,21),(10,20),(9,19),(10,17),(13.8,24),(14,23),(15,22),(15.5,23),(14,19.5),(13.8,20),(15,20),(16,21),(16.5,23),(17,25),(17,26),(15,18),(16,17.5),(17,18),(18,26),(19,25.5),(20,25),(19,23),(20,22),(21,24),(21,26),(20.7,22.5),(22,18),(23,19),(22.5,16.5),(23,15.5),(27.5,24),(26.5,23.5),(26.8,22.5),(28,21.5),(28,19),(28,17.5),(28.2,27.5),(28.7,32.5),(29.5,20),(30,22),(30,19),(31,18.5),(32,18.5),(31,19),(33,29),(34,29),(35,30),(36,30),(37,29),(36.8,32.5),(37.5,28),(38,25),(37,27),(39,24),(40,26),(40,25),(41,28),(41,26),(41,29),(41,30),(40,29),(40,22.5),(41,22),(51,25),(51,20),(52,21),(54,20),(54,28),(55,29),(56,27),(49,28),(50,30),(53,28),(57.5,34.5),(57,30),(58,26),(60,24),(62,26),(64,26),(65,25),(64,24),(66,28),(68,27),(69,24),(68,21)]
P4_OFF_COLS = [(71,[20,18,16]),(71.5,[21,19,17,15]),(72,[22,20,17,15]),(72.5,[21,19,17]),(73,[22,20,18,16]),(73.5,[21,19,17,15]),(74,[22,20,18,16,14.5]),(74.5,[21,19,17,15]),(75,[23,20,18,16]),(75.5,[21,19,17]),(76,[22,19,18,16]),(76.5,[23,24,20]),(77,[25,24,23]),(77.5,[27,26,24]),(78,[24,25,29]),(78.5,[22,24,20,19]),(79,[23,26]),(79.5,[20,22,25]),(80,[22,25]),(63,[31,34,29]),(64,[28,30]),(65.5,[31,32]),(66,[32,30]),(67,[30]),(68,[30]),(15,[21,23.5,19,17.5]),(15.5,[20,18]),(16,[19,23,24]),(16.5,[20,21,18]),(17,[22,20,19]),(17.5,[23,24,21]),(18,[24,18]),(19,[22,24,20,21]),(20,[23,24]),(21,[22,25,20]),(22,[19,17,16]),(22.8,[17,16]),(28,[22,20]),(29,[18.5,20]),(30,[20,21]),(31,[20.5]),(32,[19.5,20])]
P4_EXP = [(0,32),(0.3,21),(0.5,24),(1,27.5),(2,29),(2.3,27),(2,22),(1.5,19.5),(3,18),(4,19),(5,17.5),(6,25),(6,28),(6,18),(6.3,16),(7,17),(7.5,22),(8,16.5),(9,16.5),(11.5,24),(12,17.3),(12,14.5),(12,13),(12,11),(12,10),(12.5,9),(13,8.5),(13.5,8),(14,7.7),(14.5,7.5),(15,7.4),(15.5,7.5),(16,7.7),(16.5,8),(17,8),(17.5,8),(18,8.5),(18,11),(18,13),(18,16),(18.5,37),(18.5,35),(18.7,29),(19,27.5),(19.5,14),(20,13),(20,14.5),(23.3,29),(23.5,14),(23.5,12),(23.5,11),(23.5,10),(23.7,9),(24,8),(24,10.5),(24.5,11),(24.5,9),(25,9.7),(25,11),(24.7,17),(25.5,10),(26,12.5),(26,10),(26.5,9),(27,9),(27,8.5),(27.5,10),(28,10.5),(28.8,29),(29,30),(29,28),(28.8,35),(30,36),(29.7,26),(30,24),(29.5,28),(30.5,25),(31,22.5),(33,33.2),(32.5,29.5),(34,28),(33,22),(34,21),(34.5,20.5),(35,22),(35.5,20.5),(36,22),(35,29),(38,23),(39,26),(39,18.7),(39.5,16.5),(39,14.5),(39,13),(39.5,12.5),(40,18.5),(40,15),(40,12.5),(40.5,12),(41,11),(41,14.5),(41,10),(42,11),(42,10),(42.5,12.5),(43,11),(43,9.5),(43.5,10),(43.5,9.3),(44,10),(44,12),(44,14),(44,16),(44.3,18),(44.5,29.8),(44.5,20),(44.5,22),(45,23),(45,21),(45.5,25),(46,23),(46,21),(46,27.5),(47,27.5),(47,25),(47,23),(47,21),(48,28),(48,26),(48,24),(48,22),(48,34),(49,26),(49,23),(49,20),(50,27),(50,24),(50,21),(50.5,18),(51,27),(51,25),(52,36),(52,33),(52,31),(52.5,28),(53,34),(53,37.7),(53,31),(53,28),(54,21),(54.5,23),(55,21),(55,25),(55.5,38.7),(55.8,37.3),(56,30),(56,27),(56.5,34.8),(57,33),(57.5,31),(57.5,36.7),(57,27),(58,23),(58,20),(60,28),(60,25),(61,24),(61,28.5),(62,28),(63,23),(62,18),(62,14),(63,25),(64,15),(65,24),(65,20),(66,15),(66,14.5),(66.5,17),(67,21),(67,19),(67.5,14.5),(67.8,29.5),(68,27),(68,34.3),(68,33),(69,31.5),(69.5,33.5),(69.3,28),(69,23),(70,24),(70,20),(70,18),(71,26),(71,23),(71,21),(71,18),(71.5,17),(71.5,19),(71.5,23)]
P4_EXP_COLS = [(12.5,[11,10,13]),(13,[9.5,11]),(13.5,[9]),(14,[8.7]),(15,[8.3]),(16,[8.5]),(17,[9]),(18,[9.5]),(24,[9,11.5]),(25,[8.7,10.5]),(26,[9,11]),(27,[10,9.5]),(26.5,[11.5]),(40.5,[11,13]),(41.5,[11.5,13]),(42,[9.8,12]),(43,[10,9.8]),(45,[24,25,26]),(45.5,[21,23,26]),(46,[25,24.5]),(46.5,[22,24,26]),(47,[22,24,26]),(47.5,[22,25,26]),(48.5,[22,24,25]),(49,[21,25,27]),(49.5,[22,24,26]),(50,[22,23,28]),(50.5,[23,25,28,30]),(51,[29,31,33]),(51.5,[28,31,34]),(52,[29,35]),(53,[29,33]),(54,[25,23]),(55,[23,28]),(56,[32,35]),(57,[30,32]),(59,[22]),(60,[27,29]),(61,[26,29]),(62,[27]),(63,[13.5,14]),(65,[14,16]),(66,[16,18,20]),(66.5,[15,19]),(67,[16,23]),(67.5,[20,17]),(69.5,[25,22,20]),(70,[22,19,16]),(70.5,[20,17,23,25]),(71,[25,19.5,16.5]),(71.5,[21,18.5]),(30,[27]),(29,[26]),(40,[16,14])]
P4_OPT = [(0,32),(1.5,27.7),(1.7,29),(2.9,29),(3,27.5),(0.5,24),(1,24.5),(1,22),(1,20),(1.4,19.5),(2,26),(2.3,25),(2.5,23),(2.5,21),(3,20),(3,18.5),(4,22),(4,19),(4.5,26.5),(5,25),(5.5,25.8),(5,23),(5,21),(5,18),(5.5,19),(6,21.5),(6,24),(6,27.3),(6.5,27.5),(6.5,22),(6.5,18),(7,23.5),(7,20),(7,16.7),(8,22),(8,20),(8,18),(8,16.7),(8.3,25),(9,21),(9,18),(9,16.5),(9.5,24),(9.5,23),(9.5,21.5),(9.7,17),(13.5,15),(14,16.5),(14,12),(14,10.5),(14.5,9),(15,8.5),(15.5,8),(15,12.7),(16,13),(16,9),(16.5,9),(16.5,15.5),(17,10),(17,12),(17,13.5),(16.5,17.5),(17.5,11),(17.5,14),(17.5,16),(18,29.2),(18.5,34.9),(18,25),(18,23.5),(18,22.5),(18,20),(19,20.5),(19,17),(19,15.5),(20,19),(20,17),(20,15.5),(20,16),(20,28.5),(21,29.5),(21,27),(21,21),(21,18),(21,16),(22,24),(22,22),(22,20),(23,24.5),(23,23.2),(23,19),(23,18.5),(26,17.7),(26.5,17),(27,14.5),(27,12.5),(27.5,11.5),(27.5,16),(28,10.5),(28,15.5),(28.5,12),(28.5,14),(29,13),(29,17),(29,19),(29,21.5),(29.3,24.5),(30,24),(30,18),(30,17),(30.3,36.8),(30.8,36.7),(31,30),(31.3,31.3),(31,19.5),(32,37.5),(31.5,28.5),(32,26),(32,24),(32,22),(33,25),(33,23),(33,20),(34,29),(34,26),(34,23),(34,21),(35,30),(35,27),(35,24),(35,22),(35.5,31.5),(36,26),(36,23),(36,29.5),(36.5,30.2),(37,27),(37,24),(37,22),(37,20.5),(38,25),(38,23),(38,30.5),(38,20),(39,29),(39,24),(39,21),(39.5,28.5),(40,27.5),(40,24),(40,20.5),(40.3,29.5),(41,21.5),(41,19.8),(44,21.7),(44.5,18),(44.5,17),(45,15),(45,13.5),(45.5,12.5),(46,12),(46.5,11),(46.5,17),(47,11.5),(47,13),(47,15),(47,17),(47,19),(47,20.5),(47.5,12.5),(48,15),(48,14),(48,16),(48,18),(48,20),(48,22),(47.5,24.7),(48,29),(48,30),(48,32),(49,38),(49.5,37.5),(49,36.5),(49,35),(49.5,34),(50,35),(50,32),(50.5,33),(50,30),(50,28),(50.5,35.7),(51,37.5),(51,35),(51,32.5),(50.5,32),(52,27),(52,24),(52,22),(52,21),(53,30.7),(53,32),(53.5,38),(53,26),(53,23),(53,20.5),(54,27),(54,25),(54,23),(54.5,34),(55,35),(55,36.5),(55,31),(55,29),(55,27),(55,22),(56,29),(56,26),(56,23),(56,20),(57,28.5),(57,25),(57,21),(57,18.5),(58,29),(58,26),(58,23),(58,20),(59,28),(59,25),(59,22),(59,29.2),(59,18),(59.5,16),(60,14.5),(60,21),(60,24),(60,19),(61,21),(61,19),(61,17),(61.5,24.5),(62,28),(62,23),(62,20),(62,17),(62,15),(63,20),(63,18),(63,16),(63,23),(63.5,27.5),(64,20),(64,18),(64,15),(64.5,23),(65,28),(65,20),(65,18),(65,16),(65.5,14.7),(65.5,30),(65.5,29),(65.5,27),(66,33),(66,24),(66,23),(66,27),(67,31.5),(67,28),(67,24),(67,21),(67,17),(68,27),(68,24),(68,21),(68,19),(68,18),(68.5,26),(69,24),(69,19.5),(68.5,17)]
P4_OPT_COLS = [(0.5,[21,22,25]),(1,[23,25.5]),(1.5,[21,26,23]),(2,[20.5,23,24]),(2.5,[19,24]),(3,[22,26]),(3.5,[19,21,23,18]),(4,[21,24]),(4.5,[18,20,22]),(5,[19.5,17.5]),(5.5,[18,21,23]),(6,[18,20]),(6.5,[19,23.5,17]),(7,[19,22,17.5]),(7.5,[18,20,22,16.5]),(8,[23,19]),(8.5,[17,19,21]),(9,[19,22,17.5]),(9.5,[18,20,16.5]),(14.5,[10.5,12]),(15,[9.5,10]),(15.5,[9,13]),(16,[8.5,10.5]),(16.5,[10.5,12,13]),(17,[11,14.5]),(17.5,[12.5,13.5]),(19,[18,19,16]),(19.5,[15.5,17,18,20]),(20,[17.5,18,20.5]),(20.5,[15.8,17,18.5,20]),(21,[19,20,21.5]),(21.5,[19,21,22]),(22,[18,19,21]),(22.5,[19,20,22]),(23,[20,21]),(27.5,[12,13,14.5]),(28,[12,13]),(28.5,[16,17.5]),(29,[15,15.5]),(32.5,[23,25,27]),(33,[21,22,26.5]),(33.5,[23,25,27]),(34,[24.5,22]),(34.5,[23,25,27]),(35,[21,25.5,28]),(35.5,[22,24,26]),(36,[21.5,24.5,27]),(36.5,[22,24,26]),(37,[23,25.5]),(37.5,[21,24,26]),(38,[21,22,24]),(38.5,[21,23,25]),(39,[20.5,23,28]),(39.5,[22,24,27]),(40,[22,23,26]),(40.5,[21,24,27]),(45.5,[11.5,14]),(46,[11,13]),(46.5,[12,13.5,15]),(47,[12.5]),(51.5,[21,24,26]),(52,[25,23,28]),(52.5,[21,23,25,27]),(53,[25,27]),(53.5,[22,24,26,29,30]),(54,[22,26,29]),(54.5,[25,27,28,30]),(55,[24,26,30]),(55.5,[22,24,27,28,20]),(56,[24,28]),(56.5,[20,22,25,27]),(57,[19,23,27]),(57.5,[22,26,29]),(58,[18,21,25,28]),(58.5,[20,22,24,26]),(59,[19,21,24,27]),(59.5,[20,22,25]),(60,[17,18,23,26]),(60.5,[18,20,22,24]),(61,[20,23]),(61.5,[18,20,22]),(62,[18,19,21]),(62.5,[18,20,15,16]),(63,[17,19,21]),(63.5,[18,19,20,22]),(64,[19,21,17]),(64.5,[17,20,25]),(65,[19,24,27]),(66,[26,25,28]),(66.5,[23,25,27,29]),(67,[23,26,19]),(67.5,[22,24,26,17]),(68,[23,25,20])]


def merged(points, cols):
    return points + [(x, y) for x, ys in cols for y in ys]


# panel: title, series data, plot box (l, t, r, b), frame (l, t, r, b) in pixels
PANELS = [
    (P1_TITLE, (merged(P1_OFF, P1_OFF_COLS), merged(P1_EXP, P1_EXP_COLS), merged(P1_OPT, P1_OPT_COLS)), (58, 82.5, 584, 353), (30, 37, 593, 389)),
    (P2_TITLE, (merged(P2_OFF, P2_OFF_COLS), merged(P2_EXP, P2_EXP_COLS), merged(P2_OPT, P2_OPT_COLS)), (671, 82.5, 1196, 353), (643, 37, 1204, 390)),
    (P3_TITLE, (merged(P3_OFF, P3_OFF_COLS), merged(P3_EXP, P3_EXP_COLS), merged(P3_OPT, P3_OPT_COLS)), (58, 467, 584, 737), (30, 421, 593, 774)),
    (P4_TITLE, (merged(P4_OFF, P4_OFF_COLS), merged(P4_EXP, P4_EXP_COLS), merged(P4_OPT, P4_OPT_COLS)), (671, 469, 1196, 737), (643, 421, 1204, 773)),
]
STYLES = [
    dict(color="#FF00FF", symbol="square", size=8),
    dict(color="#FFFF00", symbol="triangle-up", size=10),
    dict(color="#000080", symbol="diamond", size=9),
]

fig = go.Figure()
shapes, annots = [], []
for i, (title, data, box, frame) in enumerate(PANELS):
    n = "" if i == 0 else str(i + 1)
    l, t, r, b = box
    for j, pts in enumerate(data):
        fig.add_trace(go.Scatter(
            x=[p[0] for p in pts], y=[p[1] for p in pts], mode="markers",
            name=SERIES[j], marker=dict(line_width=0, **STYLES[j]),
            legendgroup=SERIES[j], showlegend=(i == 0), xaxis="x" + n, yaxis="y" + n,
            cliponaxis=False))
    fig.update_layout(**{
        "xaxis" + n: dict(domain=[l / W, r / W], range=[0, 80], dtick=20, anchor="y" + n,
                          showgrid=False, zeroline=False, showline=True, linecolor="#000", linewidth=1,
                          ticks="outside", ticklen=4, tickcolor="#000", automargin=False,
                          tickfont=dict(family="Liberation Sans", size=14, color="#222"),
                          title=dict(text="Frame arrival time", standoff=18,
                                     font=dict(family="Liberation Serif", size=20, color="#000"))),
        "yaxis" + n: dict(domain=[1 - b / H, 1 - t / H], range=[0, 50], dtick=10, anchor="x" + n,
                          showgrid=True, gridcolor="#222", gridwidth=1, zeroline=False,
                          showline=True, linecolor="#000", linewidth=1,
                          ticks="outside", ticklen=4, tickcolor="#000", automargin=False,
                          tickfont=dict(family="Liberation Sans", size=14, color="#222"),
                          title=dict(text="SNR quality (y-block)", standoff=3,
                                     font=dict(family="Liberation Serif", size=20, color="#000"))),
    })
    shapes.append(dict(type="rect", xref="paper", yref="paper", x0=frame[0] / W, x1=frame[2] / W,
                       y0=1 - frame[3] / H, y1=1 - frame[1] / H, line=dict(color="#111", width=1.5),
                       layer="below"))
    shapes.append(dict(type="rect", xref="x%s domain" % n, yref="y%s domain" % n, x0=0, x1=1, y0=0, y1=1,
                       line=dict(color="#808080", width=1), layer="below"))
    annots.append(dict(text="<b>%s</b>" % title, xref="paper", yref="paper", showarrow=False,
                       xanchor="center", yanchor="middle",
                       x=((frame[0] + frame[2]) / 2 + 5) / W, y=1 - (frame[1] + 16) / H,
                       font=dict(family="Liberation Sans", size=16, color="#000")))

fig.update_layout(
    width=W, height=H, margin=dict(l=0, r=0, t=0, b=0), autosize=False,
    paper_bgcolor="white", plot_bgcolor="#C0C0C0", shapes=shapes, annotations=annots,
    legend=dict(orientation="h", x=617 / W, y=1 - 1 / H, xanchor="center", yanchor="top",
                bgcolor="#D4D4D4", bordercolor="#333", borderwidth=1,
                font=dict(family="Liberation Sans", size=15, color="#000"),
                itemwidth=30, tracegroupgap=0),
)
fig.write_html("out.html", config={"displayModeBar": False},
               post_script="document.body.style.margin='0';")
